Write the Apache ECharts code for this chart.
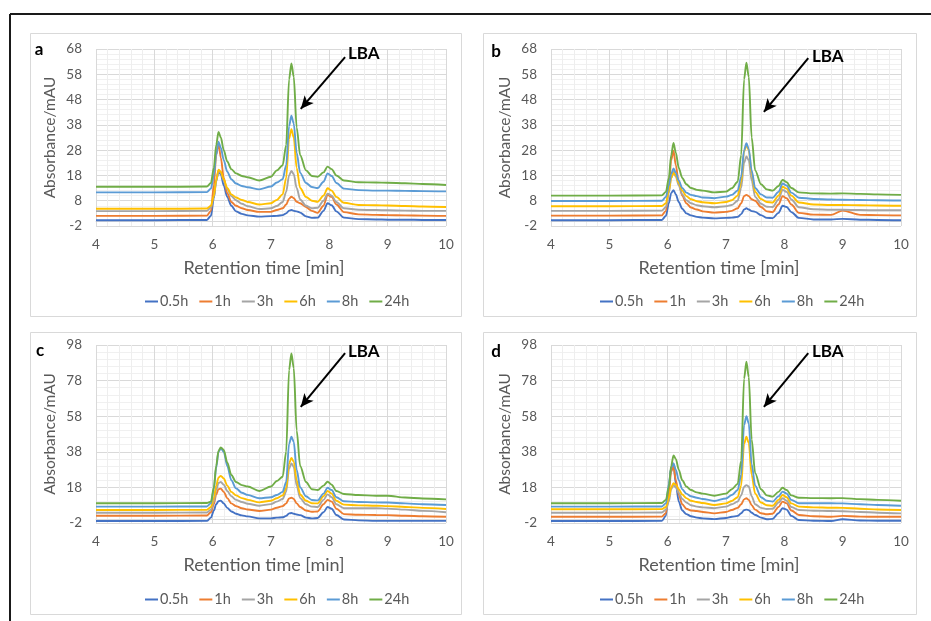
<!DOCTYPE html>
<html><head><meta charset="utf-8">
<script src="https://cdn.jsdelivr.net/npm/echarts@6/dist/echarts.min.js"></script>
<style>html,body{margin:0;padding:0;background:#fff}#c{width:931px;height:621px}</style>
</head><body><div id="c"></div>
<script>
// ---------- DATA ----------
const times = [4,5,5.9,5.97,6.02,6.06,6.1,6.14,6.19,6.25,6.32,6.4,6.5,6.6,6.8,7.0,7.1,7.2,7.26,7.31,7.35,7.39,7.44,7.5,7.6,7.7,7.8,7.9,7.97,8.04,8.12,8.25,8.5,8.8,9.0,9.3,9.6,10];
const seriesNames = ['0.5h','1h','3h','6h','8h','24h'];
const xTicks = [4,5,6,7,8,9,10];
const yTicksAB = [-2,8,18,28,38,48,58,68];
const yTicksCD = [-2,18,38,58,78,98];

// panel a
const a_05h = [0.3,0.3,0.4,2,9,16,19.5,18.5,14,9.5, 6,3.8,2.8,2.2,1.7,1.9,2,2.3,3,4.1, 4.3,4,3.8,3.3,1.8,1.2,1.3,4,7,6.2, 3.8,1.3,0.7,0.6,0.5,0.5,0.4,0.4];
const a_1h  = [2,2,2.1,4,14,26,30.8,25,17,11, 7.5,6,5,4.3,3.6,3.6,4.3,5,6.5,8.8, 9.6,9,7.6,7,5.5,4,3.2,6,10.3,9.5, 6.5,3.5,2.6,2.4,2.3,2.2,2.1,2];
const a_3h  = [3.9,3.9,4,5.3,9.5,15.5,20,19,16,12.5, 9.8,8.2,6.8,5.8,4.7,5,5.9,7.5,11.5,18, 19.8,18.5,13,8.5,6,5,5.2,8,10.8,10, 7.5,5,4.4,4.3,4.2,4.1,4,4];
const a_6h  = [4.8,4.8,4.9,6,10,16,20.3,19.5,16.5,13, 10.5,9.3,8.3,7.5,6.5,7,8.3,10.5,17,32.5, 36.3,33,21,13,9.5,8,7.6,10,12.9,12, 9.5,7.2,6.3,6.2,6.1,5.9,5.7,5.5];
const a_8h  = [11.3,11.3,11.4,12.8,18,26,31.3,29,24,19.5, 16.5,14.8,13.8,13.3,12.5,13.6,15.2,16.5,22,37.5, 41.6,38.5,27,19,15,13.4,13,15.5,18.8,17.8, 15,12.8,12.2,12,12,11.9,11.8,11.7];
const a_24h = [13.5,13.5,13.6,15,21,30,35.2,33,28,23.5, 20.5,18.8,17.8,17.3,16,17.5,20,22,30,56, 62.3,57,37,26,20,17.8,17.5,19.2,21.5,20.5, 18,16,15.3,15.2,15.1,14.9,14.6,14.2];

// panel b
const b_05h = [0.3,0.3,0.4,2,7,11,12.2,10.5,7.5,4.8, 3,2.2,1.6,1.3,1,1.2,1.3,1.6,2.7,4.5, 5,4.5,3.9,3.6,2.3,1.2,1.1,3.2,6,5.5, 3.5,1.2,0.6,0.6,0.8,0.5,0.4,0.3];
const b_1h  = [2.1,2.1,2.2,4,13,24,27.8,22,15,10, 7,5.3,4.5,3.8,3.3,3.6,4,5,7,9.8, 10.3,9.8,8.6,8,5.5,3.8,3.5,6.5,9.8,9, 6.5,3.2,2.5,2.4,4.1,2.4,2.3,2.2];
const b_3h  = [4,4,4.1,5.5,11,17,19.5,17.5,14,10.5, 8.2,7,6.2,5.8,5.4,5.8,6.3,8,13,23, 25.5,24,16,9.5,6.8,5.6,5.5,8.5,12.3,11.5, 8.5,5.4,4.6,4.4,4.4,4.3,4.2,4.2];
const b_6h  = [5.8,5.8,5.9,7,12,17,19,18,15,12, 9.8,8.6,7.8,7.4,7,7.5,8.2,10,15.5,27.5, 30,28,19,11.5,8.7,7.5,7.3,10,13.5,12.8, 10,7.3,6.5,6.3,6.3,6.2,6.1,6];
const b_8h  = [7.9,7.9,8,9.5,14,18.5,20.8,19,16,13, 11.2,10.3,9.8,9.3,9,9.6,10.3,12,17.5,28, 30.7,28.5,20,13,10.5,9.3,9.2,11.5,14.8,14, 11.2,9.2,8.7,8.5,8.4,8.3,8.2,8.1];
const b_24h = [10,10,10.1,11.5,17,26,30.8,27,21,17, 14.5,13,12.3,12,11.3,11.6,12.9,15.5,26,56, 62.6,57,33,20,14.5,12.5,12,13.8,16.2,15.3, 13,11.3,10.9,10.8,10.9,10.7,10.5,10.3];

// panel c
const c_05h = [-0.9,-0.9,-0.8,1,5,8.5,10.3,10.5,9,6.5, 4.5,3.2,2.3,1.7,0.6,0.6,1,1.2,2,3.4, 3.6,3.2,2.8,2.4,1,0.6,0.8,4,7,6, 2.5,0,-0.5,-0.8,-0.8,-0.8,-0.8,-0.8];
const c_1h  = [2.1,2.1,2.2,4,8.5,14,17,17.3,15.5,12, 9,7.5,6.3,5.6,4.7,5.5,6.6,7.5,9,11.8, 12.2,11.5,9,7,5,4.3,4.5,8.5,11,10, 6,3,2.6,2.5,2.4,2.1,1.8,1.5];
const c_3h  = [3.8,3.8,3.9,5.5,10,16.5,20.5,21,19.5,16, 13,11,9.8,8.8,7.7,8.6,10,11.5,15.5,28.5, 31.5,29.5,19,12,8.5,7.2,7,11,14.1,12.5, 8.5,6.3,6.3,6.3,6.1,5.5,4.8,4];
const c_6h  = [5.3,5.3,5.4,7,12,19,23.5,24.5,23,19, 15.5,13.5,12,11,9.6,10.5,11.9,13.5,17.5,31.5, 34.5,32.5,22,14,10.5,9.1,9,13,16,14.5, 10.5,8.3,7.9,7.7,7.5,7,6.5,5.9];
const c_8h  = [7.2,7.2,7.3,9,17,29,38,40,38,30, 22,17.5,15,13.8,11.9,12.5,13.7,15.5,21,42.5, 46.5,43.5,28,18,13,10.9,10.7,14.5,17.8,16.5, 12.5,10.2,9.8,9.6,9.5,9,8.5,8.1];
const c_24h = [9.1,9.1,9.2,10,18,30,38.5,40.5,39,32, 25,21,19.3,18.5,16,18.5,21.6,24,38,84, 93.3,85,50,30,21,17,16.5,19,21.2,19.5, 16,14.3,13.7,13.3,13.3,12.3,11.8,11.3];

// panel d
const d_05h = [-0.9,-0.9,-0.8,2,18,29,31.5,20,10,5, 3,1.8,1,0.6,0.2,0.8,1.5,2,3.5,5.2, 5.5,5.2,3.8,2.5,1,0.1,0.3,3.5,6.3,5.5, 2,-0.3,-0.7,-0.9,0.1,-0.6,-0.7,-0.7];
const d_1h  = [1.5,1.5,1.6,3.5,15,27,29.6,22,14,8.5, 6,5,4.7,4.2,3.4,4.2,5.3,6.5,8.5,11.3, 11.9,11,8,5.5,3.5,2.9,3.2,7,10,9, 5,2.5,1.8,1.5,2,1.6,1.5,1.5];
const d_3h  = [3.8,3.8,3.9,5.5,10,17,19.3,18,15,11.5, 9.5,8,7.2,6.8,6.3,7.2,8.5,10,13.5,18.3, 19.3,18.5,13,8.5,6.5,5.9,6,9.5,11.9,10.5, 7,5.3,4.9,4.7,4.6,4.2,3.8,3.4];
const d_6h  = [5.7,5.7,5.8,7,12,18,20.3,19.5,17,14, 12,10.5,9.8,9.2,8.1,9,10.4,12.5,19,42.5, 46.5,43,25,14.5,9.5,8,7.7,11,13.7,12.5, 9,7.2,6.8,6.6,6.5,6,5.6,5.3];
const d_8h  = [7.2,7.2,7.3,9,20,29,31.5,28,22,17, 14.5,13,12.2,11.5,10.4,11.8,13.7,16.5,25,53, 58,54,31,19,12.5,10.5,10,13,15.6,14.5, 11,9.1,9.1,9.1,9,8.5,8.1,7.7];
const d_24h = [9.1,9.1,9.2,11,18,30,36,34,28,22, 18.5,16.5,15.2,14.5,13.3,14.5,17,20,33,79, 88.6,80,45,26,17,13.5,12.8,15.5,17.8,16.5, 13.5,12.2,12,11.9,12,11.4,11,10.5];

// LBA arrow annotations (data coordinates: [start time, start abs, tip time, tip abs])
const arrow_a = [8.27, 64.8, 7.51, 44.3];
const arrow_b = [8.41, 64.4, 7.65, 43.1];
const arrow_c = [8.27, 93.5, 7.51, 63.2];
const arrow_d = [8.41, 93.5, 7.65, 63.2];

// ---------- STYLE / LAYOUT ----------
const colors = ['#4472C4','#ED7D31','#A5A5A5','#FFC000','#5B9BD5','#70AD47'];
const FONT = 'Lato, "Liberation Sans", sans-serif';
const TXT = '#595959';

const panels = [
  {letter:'a', data:[a_05h,a_1h,a_3h,a_6h,a_8h,a_24h], yt:yTicksAB, arrow:arrow_a,
   grid:{left:96, top:49, width:350, height:177}, box:[30,33,431,283], legend:[140,289], lba:[348,54], let:[39,50]},
  {letter:'b', data:[b_05h,b_1h,b_3h,b_6h,b_8h,b_24h], yt:yTicksAB, arrow:arrow_b,
   grid:{left:551, top:49, width:350, height:177}, box:[483,33,433,283], legend:[595,289], lba:[812,57], let:[496,52]},
  {letter:'c', data:[c_05h,c_1h,c_3h,c_6h,c_8h,c_24h], yt:yTicksCD, arrow:arrow_c,
   grid:{left:96, top:345, width:350, height:178}, box:[30,332,431,282], legend:[140,587], lba:[348,352], let:[40,351]},
  {letter:'d', data:[d_05h,d_1h,d_3h,d_6h,d_8h,d_24h], yt:yTicksCD, arrow:arrow_d,
   grid:{left:551, top:345, width:350, height:178}, box:[483,332,433,282], legend:[595,587], lba:[812,352], let:[496,352]}
];

const grids=[], xAxes=[], yAxes=[], series=[], legends=[], graphics=[];

// outer frame (top + left)
graphics.push({type:'line', shape:{x1:10,y1:14,x2:931,y2:14}, style:{stroke:'#1a1a1a', lineWidth:2}, z:100});
graphics.push({type:'line', shape:{x1:10,y1:14,x2:10,y2:621}, style:{stroke:'#1a1a1a', lineWidth:2}, z:100});

panels.forEach((p, i) => {
  grids.push(Object.assign({containLabel:false}, p.grid));
  xAxes.push({
    type:'value', gridIndex:i, min:xTicks[0], max:xTicks[xTicks.length-1], interval:xTicks[1]-xTicks[0],
    name:'Retention time [min]', nameLocation:'middle', nameGap:33,
    nameTextStyle:{fontFamily:FONT, fontSize:18, color:TXT, padding:[0,14,0,0]},
    axisLine:{show:true, lineStyle:{color:'#d9d9d9'}}, axisTick:{show:false},
    axisLabel:{fontFamily:FONT, fontSize:13.5, color:TXT, margin:12},
    splitLine:{show:true, lineStyle:{color:'#d9d9d9', width:1}},
    minorTick:{show:false, splitNumber:5},
    minorSplitLine:{show:true, lineStyle:{color:'#eeeeee', width:1}}
  });
  yAxes.push({
    type:'value', gridIndex:i, min:p.yt[0], max:p.yt[p.yt.length-1], interval:p.yt[1]-p.yt[0],
    name:'Absorbance/mAU', nameLocation:'middle', nameGap:38,
    nameTextStyle:{fontFamily:FONT, fontSize:15.5, color:TXT},
    axisLine:{show:false}, axisTick:{show:false},
    axisLabel:{fontFamily:FONT, fontSize:13.5, color:TXT, margin:14},
    splitLine:{show:true, lineStyle:{color:'#d9d9d9', width:1}},
    minorTick:{show:false, splitNumber:5},
    minorSplitLine:{show:true, lineStyle:{color:'#f0f0f0', width:1}}
  });
  p.data.forEach((vals, k) => {
    const s = {
      name:seriesNames[k], type:'line', xAxisIndex:i, yAxisIndex:i,
      data: times.map((t, j) => [t, vals[j]]),
      showSymbol:false, smooth:0.3, smoothMonotone:'x',
      lineStyle:{color:colors[k], width:1.9}, itemStyle:{color:colors[k]},
      emphasis:{disabled:true}, silent:true, z:2+k
    };
    if (k === 5) {
      s.markLine = {
        silent:true, symbol:['none','arrow'], symbolSize:[9,13],
        lineStyle:{color:'#000', width:2, type:'solid'}, label:{show:false},
        emphasis:{disabled:true},
        data:[[{coord:[p.arrow[0], p.arrow[1]]},{coord:[p.arrow[2], p.arrow[3]]}]]
      };
    }
    series.push(s);
  });
  legends.push({
    data:seriesNames, left:p.legend[0], top:p.legend[1], orient:'horizontal',
    icon:'rect', itemWidth:13, itemHeight:2, itemGap:11, selectedMode:false,
    textStyle:{fontFamily:FONT, fontSize:14.5, color:TXT, padding:[0,0,0,-3]}
  });
  graphics.push({type:'rect', shape:{x:p.box[0]+0.5, y:p.box[1]+0.5, width:p.box[2], height:p.box[3]},
    style:{fill:'none', stroke:'#d9d9d9', lineWidth:1}, z:0});
  graphics.push({type:'text', x:p.let[0], y:p.let[1],
    style:{text:p.letter, font:'bold 17px '+FONT, fill:'#000', align:'center', verticalAlign:'middle'}, z:100});
  graphics.push({type:'text', x:p.lba[0], y:p.lba[1],
    style:{text:'LBA', font:'bold 17px '+FONT, fill:'#000', align:'left', verticalAlign:'middle'}, z:100});
});

const chart = echarts.init(document.getElementById('c'), null, {renderer:'canvas'});
chart.setOption({
  animation:false, backgroundColor:'#fff',
  grid:grids, xAxis:xAxes, yAxis:yAxes, series:series, legend:legends, graphic:graphics
});
</script>
</body></html>
